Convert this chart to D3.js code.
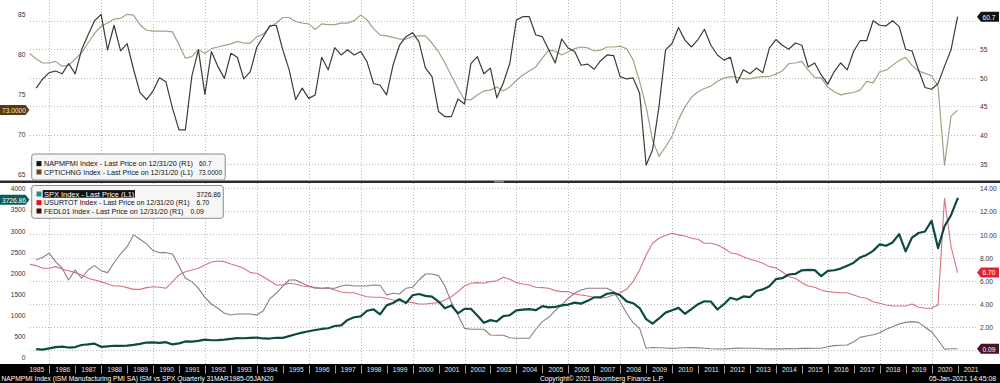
<!DOCTYPE html>
<html><head><meta charset="utf-8">
<script src="https://cdn.jsdelivr.net/npm/d3@7"></script>
<style>
html,body{margin:0;padding:0;background:#fff;}
svg{display:block;}
text{font-family:"Liberation Sans Narrow","Liberation Sans",Arial,sans-serif;}
</style></head><body>
<svg id="chart" width="1000" height="383"></svg>
<script>
// ---------- categories ----------
const years = [1985,1986,1987,1988,1989,1990,1991,1992,1993,1994,1995,1996,1997,1998,1999,2000,2001,2002,2003,2004,2005,2006,2007,2008,2009,2010,2011,2012,2013,2014,2015,2016,2017,2018,2019,2020];
const quarterEnds = ["03-31","06-30","09-30","12-31"];
const yearLabels = ["1985","1986","1987","1988","1989","1990","1991","1992","1993","1994","1995","1996","1997","1998","1999","2000","2001","2002","2003","2004","2005","2006","2007","2008","2009","2010","2011","2012","2013","2014","2015","2016","2017","2018","2019","2020","2021"];

// ---------- series (quarterly, one row per year) ----------
const napmpmi = [
 null,48.2,49.8,50.9, 51.2,50.7,52.5,50.7, 54.9,57.5,60.0,61.1, 54.9,59.2,54.7,56.0,
 51.5,47.4,46.2,47.7, 50.0,49.3,44.7,40.9, 40.9,50.3,54.9,47.1, 54.6,52.0,49.9,54.3,
 53.6,49.8,51.1,55.4, 57.2,59.1,59.2,54.9, 51.4,46.2,48.2,46.4, 47.0,53.6,51.4,55.3,
 54.0,54.9,54.0,54.6, 52.8,49.0,48.7,47.0, 52.2,55.7,57.2,57.9, 56.3,51.7,50.2,44.1,
 43.2,43.2,46.3,45.4, 52.5,53.7,50.7,51.7, 46.5,49.1,52.5,60.1, 60.7,60.7,57.5,57.2,
 54.9,52.6,56.8,55.2, 54.6,52.2,52.4,51.5, 53.0,54.0,53.9,50.2, 49.8,50.0,47.3,34.7,
 37.4,45.0,54.9,56.0, 58.8,56.6,55.4,56.7, 58.5,55.7,54.0,53.1, 53.6,49.1,51.4,50.7,
 51.7,50.9,55.2,56.7, 55.7,55.0,56.1,55.7, 51.9,52.6,50.5,48.9, 51.1,52.6,51.4,54.7,
 56.5,56.5,60.0,59.2, 59.1,60.0,59.0,55.0, 54.7,51.4,48.3,48.0, 49.0,52.0,54.9,60.7
];
const cptichng = [
 80.1,79.4,78.9,78.9, 79.1,78.5,78.6,79.4, 80.2,81.4,82.6,83.5, 83.9,84.4,84.5,85.0,
 84.9,83.7,83.0,82.9, 82.9,82.9,82.8,81.2, 79.5,79.7,80.6,80.1, 80.7,80.9,81.1,81.3,
 81.6,81.4,81.4,82.2, 82.5,83.4,83.9,84.6, 84.6,84.1,83.9,83.8, 83.1,83.8,83.7,83.7,
 83.9,83.9,84.2,84.9, 84.3,83.2,82.4,82.3, 82.1,81.9,81.9,82.2, 82.3,82.3,81.4,80.3,
 78.9,77.3,75.7,74.3, 74.3,74.9,75.4,75.5, 75.9,75.4,75.9,76.7, 77.4,77.9,78.4,79.5,
 80.5,80.4,79.9,80.3, 80.7,80.9,80.8,80.4, 80.5,80.9,80.9,81.0, 80.7,79.3,76.6,73.4,
 69.2,67.2,68.4,69.7, 71.8,73.4,74.6,75.3, 75.7,76.0,76.6,77.0, 77.2,77.1,76.9,76.9,
 77.1,77.2,77.2,77.5, 77.9,78.8,78.9,79.1, 78.0,77.1,77.0,75.9, 75.3,74.9,75.1,75.2,
 75.5,76.6,76.4,77.8, 78.0,78.6,79.2,79.6, 78.6,77.9,77.6,77.3, 76.0,66.1,72.2,73.0
];
const spx = [
 null,191.9,182.1,211.3, 238.9,250.8,231.3,242.2, 291.7,304.0,321.8,247.1, 258.9,273.5,271.9,277.7,
 294.9,318.0,349.2,353.4, 339.9,358.0,306.1,330.2, 375.2,371.2,387.9,417.1, 403.7,408.1,417.8,435.7,
 451.7,450.5,458.9,466.5, 445.8,444.3,462.7,459.3, 500.7,544.8,584.4,615.9, 645.5,670.6,687.3,740.7,
 757.1,885.1,947.3,970.4, 1101.8,1133.8,1017.0,1229.2, 1286.4,1372.7,1282.7,1469.3, 1498.6,1454.6,1436.5,1320.3,
 1160.3,1224.4,1040.9,1148.1, 1147.4,989.8,815.3,879.8, 848.2,974.5,996.0,1111.9, 1126.2,1140.8,1114.6,1211.9,
 1180.6,1191.3,1228.8,1248.3, 1294.8,1270.2,1335.9,1418.3, 1420.9,1503.4,1526.8,1468.4, 1322.7,1280.0,1166.4,903.3,
 797.9,919.3,1057.1,1115.1, 1169.4,1030.7,1141.2,1257.6, 1325.8,1320.6,1131.4,1257.6, 1408.5,1362.2,1440.7,1426.2,
 1569.2,1606.3,1681.6,1848.4, 1872.3,1960.2,1972.3,2058.9, 2067.9,2063.1,1920.0,2043.9, 2059.7,2098.9,2168.3,2238.8,
 2362.7,2423.4,2519.4,2673.6, 2640.9,2718.4,2914.0,2506.9, 2834.4,2941.8,2976.7,3230.8, 2584.6,3100.3,3363.0,3756.1
];
const spxLatestDate = "2021-01-05";
const spxLatest = 3726.86;
const usurtot = [
 7.41,7.30,7.07,7.07, 7.21,6.98,6.86,6.69, 6.49,6.20,6.05,5.91, 5.71,5.53,5.53,5.39,
 5.24,5.24,5.39,5.47, 5.42,5.33,5.91,6.49, 6.77,6.92,7.07,7.35, 7.61,7.70,7.64,7.44,
 7.27,7.07,6.69,6.63, 6.34,5.99,5.62,5.62, 5.77,5.71,5.53,5.47, 5.42,5.33,5.39,5.19,
 5.01,4.95,4.95,4.75, 4.60,4.55,4.55,4.47, 4.32,4.26,4.17,4.09, 3.97,3.97,4.03,4.09,
 4.32,4.60,5.04,5.53, 5.77,5.82,5.77,5.91, 5.99,6.29,6.11,5.82, 5.71,5.62,5.42,5.39,
 5.33,5.13,5.04,5.04, 4.84,4.75,4.67,4.55, 4.47,4.55,4.75,4.95, 5.24,5.91,6.92,8.22,
 9.24,9.67,9.90,10.10, 9.96,9.87,9.67,9.58, 9.24,9.24,9.09,8.80, 8.42,8.31,8.07,7.85,
 7.70,7.50,7.21,7.09, 6.77,6.34,6.20,5.82, 5.53,5.42,5.19,5.04, 4.99,4.95,4.95,4.75,
 4.55,4.47,4.17,4.03, 3.89,3.80,3.80,3.80, 3.97,3.69,3.60,3.60, 3.89,13.14,8.94,6.70
];
const fedl01 = [
 null,7.79,8.02,8.37, 7.64,7.07,6.05,6.92, 6.20,6.92,7.30,6.86, 6.69,7.55,8.31,8.94,
 9.96,9.58,9.18,8.60, 8.42,8.42,8.31,7.27, 6.20,5.91,5.33,4.55, 3.97,3.60,3.17,3.02,
 3.10,3.10,3.10,3.02, 3.39,4.41,4.90,5.53, 6.05,6.05,5.77,5.53, 5.33,5.33,5.33,5.33,
 5.53,5.62,5.53,5.53, 5.53,5.62,5.59,4.75, 4.90,4.84,5.33,5.42, 6.05,6.57,6.57,6.43,
 5.53,4.09,3.02,1.86, 1.78,1.78,1.78,1.28, 1.26,1.26,1.05,1.00, 1.00,1.00,1.78,2.44,
 2.82,3.39,3.89,4.47, 4.90,5.19,5.33,5.33, 5.33,5.33,5.04,4.17, 3.17,2.35,1.86,0.13,
 0.20,0.18,0.15,0.12, 0.16,0.18,0.19,0.17, 0.14,0.09,0.07,0.07, 0.10,0.16,0.14,0.14,
 0.14,0.09,0.08,0.09, 0.08,0.10,0.09,0.12, 0.12,0.13,0.14,0.27, 0.36,0.39,0.42,0.70,
 1.08,1.20,1.31,1.48, 1.78,2.00,2.24,2.38, 2.44,2.38,1.95,1.57, 0.85,0.05,0.09,0.09
];

// ---------- tick values ----------
const topLeftTicks = [65,70,75,80,85];
const topRightTicks = [35,40,45,50,55];
const topGridTicks = [35,40,45,50,55,60];
const botLeftTicks = [0,500,1000,1500,2000,2500,3000,3500,4000];
const botRightTicks = [2,4,6,8,10,12,14];
const botGridTicks = [0,2,4,6,8,10,12,14];

// ---------- texts ----------
const legendTop = [
  {label:"NAPMPMI Index - Last Price on 12/31/20 (R1)", value:"60.7", color:"#111111"},
  {label:"CPTICHNG Index - Last Price on 12/31/20 (L1)", value:"73.0000", color:"#6a4a14"}
];
const legendBot = [
  {label:"SPX Index - Last Price (L1)", value:"3726.86", color:"#2a8a86"},
  {label:"USURTOT Index - Last Price on 12/31/20 (R1)", value:"6.70", color:"#e8141c"},
  {label:"FEDL01 Index - Last Price on 12/31/20 (R1)", value:"0.09", color:"#3e0c14"}
];
const footerLeft = "NAPMPMI Index (ISM Manufacturing PMI SA) ISM vs SPX  Quarterly 31MAR1985-05JAN20";
const footerMid = "Copyright\u00A9 2021 Bloomberg Finance L.P.";
const footerRight = "05-Jan-2021 14:45:08";

// ---------- drawing ----------
const svg = d3.select("#chart");
const dates = years.flatMap(y => quarterEnds.map(q => new Date(`${y}-${q}T12:00:00`)));
const x = d3.scaleTime().domain([new Date(1985,0,1), new Date(2021,0,1)]).range([23.35, 957.6]);
const yTL = d3.scaleLinear().domain([65,85]).range([173.9,14.3]);
const yTR = d3.scaleLinear().domain([35,60]).range([163.5,20.7]);
const yBL = d3.scaleLinear().domain([0,4000]).range([357.3,188.3]);
const yBR = d3.scaleLinear().domain([0,14]).range([349.8,188.3]);
const GL = 30, GR = 977;
const topY = [0,180], botY = [183,364];

svg.append("rect").attr("width",1000).attr("height",383).attr("fill","#fff");

// grid
const grid = svg.append("g").attr("stroke","#b8b8b8").attr("stroke-width",1).attr("stroke-dasharray","1,2");
const evenYears = years.filter(y => y % 2 === 0).map(y => new Date(y,0,1));
[topY, botY].forEach(r => {
  grid.selectAll(null).data(evenYears).join("line")
    .attr("x1", d => Math.round(x(d))+0.5).attr("x2", d => Math.round(x(d))+0.5)
    .attr("y1", r[0]).attr("y2", r[1]);
});
grid.selectAll(null).data(topGridTicks).join("line")
  .attr("x1",GL).attr("x2",GR).attr("y1",d=>Math.round(yTR(d))+0.5).attr("y2",d=>Math.round(yTR(d))+0.5);
grid.selectAll(null).data(botGridTicks).join("line")
  .attr("x1",GL).attr("x2",GR).attr("y1",d=>Math.round(yBR(d))+0.5).attr("y2",d=>Math.round(yBR(d))+0.5);

// axes
function styleAxis(g){
  g.select(".domain").remove();
  g.selectAll("line").remove();
  g.selectAll("text").attr("class","fit").attr("fill","#333").attr("font-size",8)
    .attr("font-family",'"Liberation Sans Narrow","Liberation Sans",Arial,sans-serif');
}
svg.append("g").attr("transform","translate(25.5,0)")
  .call(d3.axisLeft(yTL).tickValues(topLeftTicks).tickSize(0).tickPadding(0)).call(styleAxis);
svg.append("g").attr("transform","translate(980,0)")
  .call(d3.axisRight(yTR).tickValues(topRightTicks).tickSize(0).tickPadding(0)).call(styleAxis);
svg.append("g").attr("transform","translate(25.5,0)")
  .call(d3.axisLeft(yBL).tickValues(botLeftTicks).tickFormat(d3.format("d")).tickSize(0).tickPadding(0)).call(styleAxis);
svg.append("g").attr("transform","translate(980,0)")
  .call(d3.axisRight(yBR).tickValues(botRightTicks).tickFormat(d3.format(".2f")).tickSize(0).tickPadding(0)).call(styleAxis);

// lines
const pts = arr => arr.map((v,i) => ({d: dates[i], v}));
const mk = ys => d3.line().defined(p => p.v != null).x(p => x(p.d)).y(p => ys(p.v));
const lines = svg.append("g").attr("fill","none").attr("stroke-linejoin","round");
lines.append("path").attr("d", mk(yTL)(pts(cptichng))).attr("stroke","#a99f86").attr("stroke-width",1.2);
lines.append("path").attr("d", mk(yTR)(pts(napmpmi))).attr("stroke","#3c3c3c").attr("stroke-width",1.2);
lines.append("path").attr("d", mk(yBR)(pts(usurtot))).attr("stroke","#d8737a").attr("stroke-width",1.1);
lines.append("path").attr("d", mk(yBR)(pts(fedl01))).attr("stroke","#8e7c84").attr("stroke-width",1.1);
const spxPts = pts(spx).concat([{d:new Date(`${spxLatestDate}T12:00:00`), v: spxLatest}]);
lines.append("path").attr("d", mk(yBL)(spxPts)).attr("stroke","#0b4b43").attr("stroke-width",2.2);

// panel separator
svg.append("rect").attr("x",0).attr("y",180.5).attr("width",1000).attr("height",2.5).attr("fill","#2a2a2a");
svg.append("rect").attr("x",494).attr("y",181).attr("width",10).attr("height",1.5).attr("fill","#8a8a8a");

// legends
function legend(items, bx, by, bw, bh, rowY, valX, highlightFirst){
  const g = svg.append("g");
  g.append("rect").attr("x",bx).attr("y",by).attr("width",bw).attr("height",bh).attr("rx",2.5)
    .attr("fill","#f6f6f6").attr("stroke","#8c8c8c").attr("stroke-width",1);
  items.forEach((it,i) => {
    const cy = rowY[i];
    g.append("rect").attr("x",36.5).attr("y",cy-2.5).attr("width",5).attr("height",5).attr("fill",it.color);
    if (highlightFirst && i === 0) {
      g.append("rect").attr("x",42.7).attr("y",cy-3.9).attr("width",92.3).attr("height",7.6).attr("fill","#111");
    }
    g.append("text").attr("x",44).attr("y",cy+2.6).attr("font-size",7.1)
      .attr("fill", highlightFirst && i===0 ? "#fff" : "#111")
      .attr("textLength", it.len).attr("lengthAdjust","spacingAndGlyphs").text(it.label);
    g.append("text").attr("x",valX[i]).attr("y",cy+2.6).attr("font-size",7.4).attr("fill","#111")
      .attr("textLength", it.vlen).attr("lengthAdjust","spacingAndGlyphs").text(it.value);
  });
}
legendTop[0].len = 149; legendTop[0].vlen = 12.5;
legendTop[1].len = 149; legendTop[1].vlen = 23.5;
legendBot[0].len = 90.3;  legendBot[0].vlen = 24.3;
legendBot[1].len = 145.5; legendBot[1].vlen = 12.6;
legendBot[2].len = 139.5; legendBot[2].vlen = 13.3;
legend(legendTop, 31.7, 154, 193.5, 26, [163.6, 172], [199, 198.5], false);
legend(legendBot, 31.7, 185.5, 191.6, 32.8, [194, 202.6, 211], [196.5, 196.5, 190.5], true);

// value tags
function tag(side, cy, txt, bg, fg){
  const h = 10, g = svg.append("g");
  if (side === "left") {
    g.append("path").attr("d",`M0,${cy-h/2}H25.5L29.5,${cy}L25.5,${cy+h/2}H0Z`).attr("fill",bg);
    g.append("text").attr("class","fit").attr("x",14).attr("y",cy+2.9).attr("text-anchor","middle")
      .attr("font-size",8).attr("fill",fg).text(txt);
  } else {
    g.append("path").attr("d",`M999,${cy-h/2}H981L977,${cy}L981,${cy+h/2}H999Z`).attr("fill",bg);
    g.append("text").attr("class","fit").attr("x",989).attr("y",cy+2.9).attr("text-anchor","middle")
      .attr("font-size",8).attr("fill",fg).text(txt);
  }
}
tag("left", yTL(cptichng[cptichng.length-1]), "73.0000", "#5a3a0e", "#f3e4c6");
tag("right", yTR(napmpmi[napmpmi.length-1]), "60.7", "#111", "#fff");
tag("left", yBL(spxLatest), "3726.86", "#0e5d57", "#fff");
tag("right", yBR(usurtot[usurtot.length-1]), "6.70", "#e8202a", "#fff");
tag("right", yBR(fedl01[fedl01.length-1]), "0.09", "#4e1220", "#fff");

// bottom time axis bar
svg.append("rect").attr("x",0).attr("y",364).attr("width",1000).attr("height",19).attr("fill","#000");
const yearMid = yearLabels.map(s => new Date(+s,6,2));
const xa = svg.append("g").attr("transform","translate(0,364)")
  .call(d3.axisBottom(x).tickValues(yearMid).tickFormat(d3.timeFormat("%Y")).tickSize(0).tickPadding(0));
xa.select(".domain").remove();
xa.selectAll("text").attr("class","fit").attr("dy",null).attr("y",8.4).attr("fill","#e2e2e2").attr("font-size",8);
const seps = yearLabels.slice(1).map(s => new Date(+s,0,1));
svg.append("g").selectAll("line").data(seps).join("line")
  .attr("x1",d=>Math.round(x(d))+0.5).attr("x2",d=>Math.round(x(d))+0.5)
  .attr("y1",365.5).attr("y2",373.5).attr("stroke","#9a9a9a").attr("stroke-width",1);

// footer
svg.append("text").attr("x",1.5).attr("y",380.8).attr("font-size",7.2).attr("fill","#fff")
  .attr("textLength",272).attr("lengthAdjust","spacingAndGlyphs").text(footerLeft);
svg.append("text").attr("x",540).attr("y",380.8).attr("font-size",7.2).attr("fill","#fff")
  .attr("textLength",124).attr("lengthAdjust","spacingAndGlyphs").text(footerMid);
svg.append("text").attr("x",929).attr("y",380.8).attr("font-size",7.2).attr("fill","#fff")
  .attr("textLength",67).attr("lengthAdjust","spacingAndGlyphs").text(footerRight);

// narrow-font fallback
const probe = svg.append("text").attr("font-size",8).text("0000000000");
const pw = probe.node().getComputedTextLength(); probe.remove();
if (pw > 40) {
  svg.selectAll("text.fit").each(function(){
    const l = this.getComputedTextLength();
    d3.select(this).attr("textLength", l*0.83).attr("lengthAdjust","spacingAndGlyphs");
  });
}
</script>
</body></html>
